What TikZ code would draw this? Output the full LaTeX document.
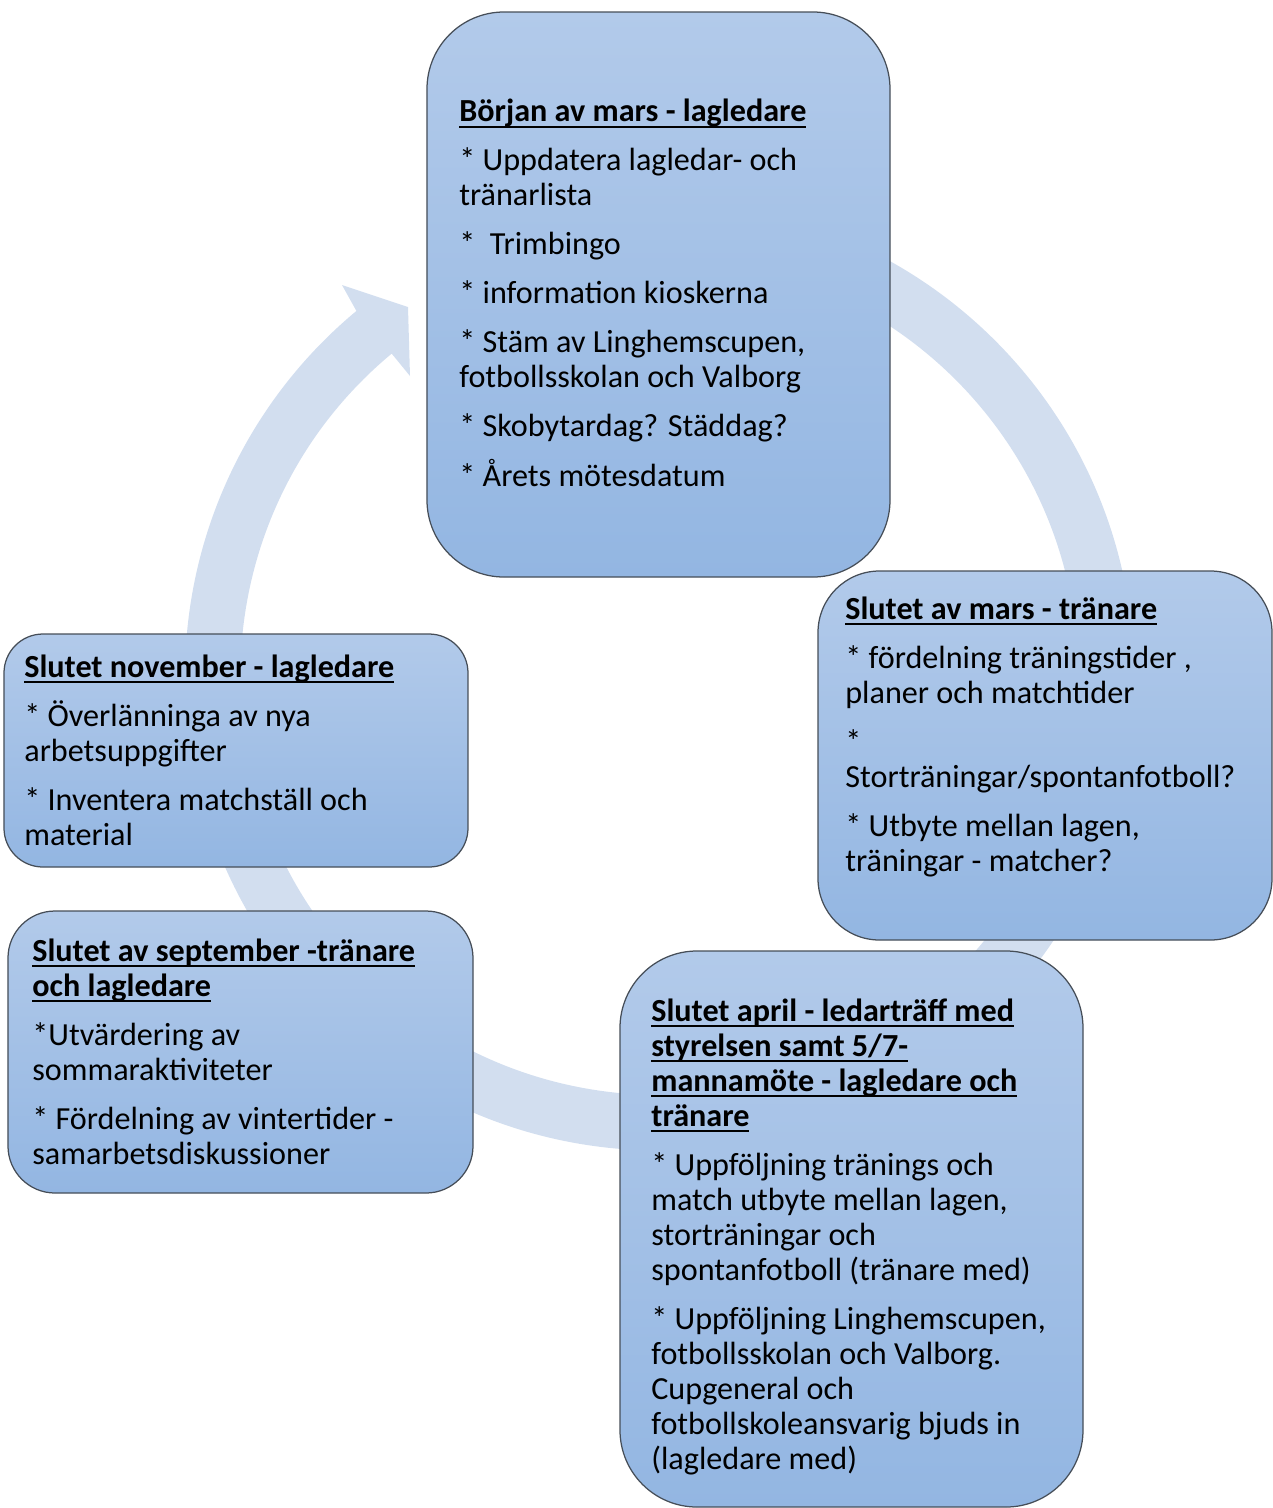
\documentclass[tikz,border=0pt]{standalone}
\usepackage{fontspec}
\setmainfont{Carlito}
\definecolor{ringblue}{RGB}{210,222,239}
\definecolor{boxtop}{RGB}{178,202,234}
\definecolor{boxbot}{RGB}{147,182,226}
\definecolor{boxline}{RGB}{70,78,88}
\newsavebox{\hdbox}
\newcommand{\hd}[1]{\sbox{\hdbox}{\textbf{#1}}\rlap{\rule[-3.4pt]{\wd\hdbox}{1.1pt}}\usebox{\hdbox}}
\begin{document}
\begin{tikzpicture}[x=0.2mm,y=-0.2mm,
	stage/.style={draw=boxline,line width=0.25mm,top color=boxtop,bottom color=boxbot,inner sep=0pt},
	txt/.style={anchor=base west,align=left,inner sep=0pt,font=\fontsize{18.3}{19.9}\selectfont}]
	\useasboundingbox (0,0) rectangle (1273,1508);
	\fill[ringblue] (659.5,201.5) arc[start angle=-90,end angle=230.3,radius=474.5]
		-- (342,285) -- (408,307) -- (410,376) -- (391.7,353.6)
		arc[start angle=230.3,end angle=-90,radius=419] -- cycle;
	\node[stage,rounded corners=15.4mm,minimum width=92.6mm,minimum height=113mm] (mars) at (658.5,294.5) {};
	\node[stage,rounded corners=12.3mm,minimum width=90.8mm,minimum height=73.8mm] (tranare) at (1045,755.5) {};
	\node[stage,rounded corners=15.4mm,minimum width=92.6mm,minimum height=111.2mm] (april) at (851.5,1229) {};
	\node[stage,rounded corners=9.4mm,minimum width=93mm,minimum height=56.4mm] (september) at (240.5,1052) {};
	\node[stage,rounded corners=7.8mm,minimum width=92.8mm,minimum height=46.6mm] (november) at (236,750.5) {};
	\node[txt] (mars-txt) at (459,486) {\hd{Början av mars - lagledare}\\[8pt]
		* Uppdatera lagledar- och\\ tränarlista\\[8pt]
		*\ \ Trimbingo\\[8pt]
		* information kioskerna\\[8pt]
		* Stäm av Linghemscupen,\\ fotbollsskolan och Valborg\\[8pt]
		* Skobytardag? Städdag?\\[8pt]
		* Årets mötesdatum};
	\node[txt] (tranare-txt) at (845,871) {\hd{Slutet av mars - tränare}\\[8pt]
		* fördelning träningstider ,\\ planer och matchtider\\[8pt]
		*\\ Storträningar/spontanfotboll?\\[8pt]
		* Utbyte mellan lagen,\\ träningar - matcher?};
	\node[txt] (april-txt) at (651,1469) {\hd{Slutet april - ledarträff med}\\ \hd{styrelsen samt 5/7-}\\
		\hd{mannamöte - lagledare och}\\ \hd{tränare}\\[8pt]
		* Uppföljning tränings och\\ match utbyte mellan lagen,\\ storträningar och\\ spontanfotboll (tränare med)\\[8pt]
		* Uppföljning Linghemscupen,\\ fotbollsskolan och Valborg.\\ Cupgeneral och\\ fotbollskoleansvarig bjuds in\\ (lagledare med)};
	\node[txt] (september-txt) at (32,1164) {\hd{Slutet av september -tränare}\\ \hd{och lagledare}\\[8pt]
		*Utvärdering av\\ sommaraktiviteter\\[8pt]
		* Fördelning av vintertider -\\ samarbetsdiskussioner};
	\node[txt] (november-txt) at (24,845) {\hd{Slutet november - lagledare}\\[8pt]
		* Överlänninga av nya\\ arbetsuppgifter\\[8pt]
		* Inventera matchställ och\\ material};
\end{tikzpicture}
\end{document}
